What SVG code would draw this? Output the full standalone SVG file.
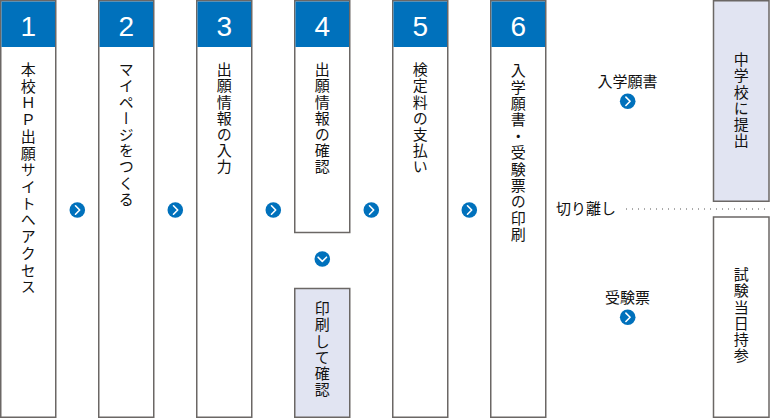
<svg xmlns="http://www.w3.org/2000/svg" xmlns:xlink="http://www.w3.org/1999/xlink" width="770" height="419" viewBox="0 0 770 419">
<style>
.box{fill:#fff;stroke:#6b6765;stroke-width:1.5}
.boxl{fill:#e1e4f2;stroke:#6b6765;stroke-width:1.5}
.hdr{fill:#0071bc}
.num{font-family:"Liberation Sans",Arial,sans-serif;font-size:28px;fill:#fff;text-anchor:middle}
.vt{font-family:"Noto Sans CJK JP","Noto Sans",sans-serif;font-size:15px;fill:#111;writing-mode:vertical-rl;letter-spacing:1.2px}
.lbl{font-family:"Noto Sans CJK JP","Noto Sans",sans-serif;font-size:15px;fill:#111;text-anchor:middle}
.dot{fill:#0071bc}
.chev{fill:none;stroke:#fff;stroke-width:1.6;stroke-linecap:round;stroke-linejoin:round}
</style>
<defs>
<g id="cr"><circle class="dot" r="7.8"/><path class="chev" d="M-1.8,-4.2 L2.4,0 L-1.8,4.2"/></g>
<g id="cd"><circle class="dot" r="7.8"/><path class="chev" d="M-4.2,-1.8 L0,2.4 L4.2,-1.8"/></g>
</defs>

<g id="step1">
<rect class="box" x="0.75" y="0.75" width="55" height="416.5"/>
<rect class="hdr" x="1.5" y="1.5" width="53.5" height="45.5"/>
<text class="num" x="28.3" y="36">1</text>
<text class="vt" x="28.3" y="62" style="letter-spacing:1.7px">本校ＨＰ出願サイトへアクセス</text>
</g>
<g id="step2">
<rect class="box" x="98.75" y="0.75" width="55" height="416.5"/>
<rect class="hdr" x="99.5" y="1.5" width="53.5" height="45.5"/>
<text class="num" x="126.3" y="36">2</text>
<text class="vt" x="126.3" y="62">マイページをつくる</text>
</g>
<g id="step3">
<rect class="box" x="196.75" y="0.75" width="55" height="416.5"/>
<rect class="hdr" x="197.5" y="1.5" width="53.5" height="45.5"/>
<text class="num" x="224.3" y="36">3</text>
<text class="vt" x="224.3" y="62">出願情報の入力</text>
</g>
<g id="step4">
<rect class="box" x="294.75" y="0.75" width="55" height="231.75"/>
<rect class="hdr" x="295.5" y="1.5" width="53.5" height="45.5"/>
<text class="num" x="322.3" y="36">4</text>
<text class="vt" x="322.3" y="62">出願情報の確認</text>
</g>
<g id="step4b">
<rect class="boxl" x="294.75" y="288.5" width="55" height="128.75"/>
<text class="vt" x="322.3" y="301">印刷して確認</text>
</g>
<g id="step5">
<rect class="box" x="392.75" y="0.75" width="55" height="416.5"/>
<rect class="hdr" x="393.5" y="1.5" width="53.5" height="45.5"/>
<text class="num" x="420.3" y="36">5</text>
<text class="vt" x="420.3" y="62">検定料の支払い</text>
</g>
<g id="step6">
<rect class="box" x="490.75" y="0.75" width="55" height="416.5"/>
<rect class="hdr" x="491.5" y="1.5" width="53.5" height="45.5"/>
<text class="num" x="518.3" y="36">6</text>
<text class="vt" x="518.3" y="63" style="letter-spacing:1.4px">入学願書・受験票の印刷</text>
</g>
<g id="submit">
<rect class="boxl" x="713.5" y="0.75" width="55.5" height="200.5"/>
<text class="vt" x="741.3" y="52">中学校に提出</text>
</g>
<g id="bring">
<rect class="box" x="713.5" y="217" width="55.5" height="200.25"/>
<text class="vt" x="741.3" y="267">試験当日持参</text>
</g>
<g id="labels">
<text class="lbl" x="627.5" y="87">入学願書</text>
<text class="lbl" x="627.5" y="303">受験票</text>
<text class="lbl" x="586" y="214">切り離し</text>
</g>

<g id="connectors">
<use xlink:href="#cr" x="77.3" y="210"/>
<use xlink:href="#cr" x="175.3" y="210"/>
<use xlink:href="#cr" x="273.3" y="210"/>
<use xlink:href="#cr" x="371.3" y="210"/>
<use xlink:href="#cr" x="469.3" y="210"/>
<use xlink:href="#cd" x="322.3" y="259"/>
<use xlink:href="#cr" x="627.7" y="101.3"/>
<use xlink:href="#cr" x="627.7" y="317.3"/>
<line x1="626" y1="209" x2="770" y2="209" stroke="#555" stroke-width="1" stroke-dasharray="1 5"/>
</g>
</svg>
